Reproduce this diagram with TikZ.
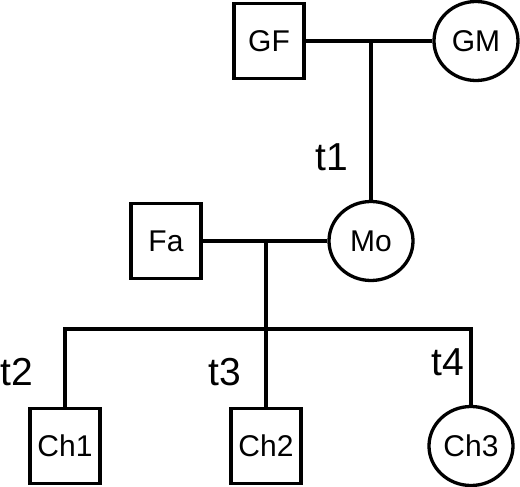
\documentclass[tikz,border=0pt]{standalone}
\usepackage{fontspec}
\setmainfont{Liberation Sans}
\usepackage{tikz}
\usetikzlibrary{positioning, shapes.geometric}

\tikzset{
  male/.style={draw, rectangle, minimum width=70pt, minimum height=75pt, inner sep=0pt, font=\fontsize{30}{35}\selectfont},
  female/.style={draw, ellipse, minimum width=84pt, minimum height=79pt, inner sep=0pt, font=\fontsize{30}{35}\selectfont},
  gen/.style={inner sep=0pt, font=\fontsize{39}{45}\selectfont}
}

\begin{document}
\begin{tikzpicture}[x=1pt, y=1pt, on grid, line width=3.3pt]
\useasboundingbox (0,0) rectangle (520,-487);
\node[male](GF) at (269,-41){GF};
\node[female, right = 207pt of GF](GM){GM};
\node[female, below right = 200pt and 102pt of GF](Mo){Mo};
\node[male, left = 205pt of Mo](Fa){Fa};
\node[male, below right = 205pt and 100pt of Fa](Ch2){Ch2};
\node[male, left = 201pt of Ch2](Ch1){Ch1};
\node[female, right = 205pt of Ch2](Ch3){Ch3};
\coordinate[above = 117pt of Ch2](sib);
\draw (GF) -- (GM);
\draw (GF -| Mo) -- (Mo);
\draw (Fa) -- (Mo);
\draw (Fa -| Ch2) -- (Ch2);
\draw (Ch1) |- (sib) -| (Ch3);
\node[gen, above left = 84pt and 39pt of Mo](t1){t1};
\node[gen, above left = 74pt and 48pt of Ch1](t2){t2};
\node[gen, above left = 74pt and 41pt of Ch2](t3){t3};
\node[gen, above left = 84pt and 23pt of Ch3](t4){t4};
\end{tikzpicture}
\end{document}
